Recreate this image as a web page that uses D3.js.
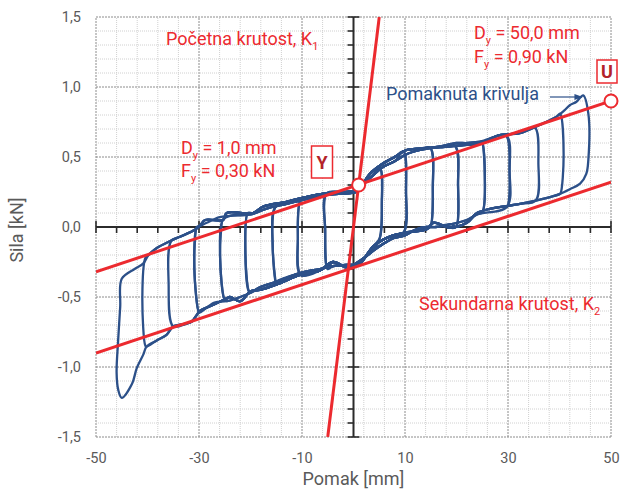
<!DOCTYPE html>
<html>
<head>
<meta charset="utf-8">
<script src="https://cdn.jsdelivr.net/npm/d3@7"></script>
<style>
  body { margin: 0; background: #fff; }
  text { font-family: Roboto, "Noto Sans", sans-serif; }
</style>
</head>
<body>
<svg id="chart" width="623" height="490"></svg>
<script>
// tick labels
const xTicks = [-50, -30, -10, 10, 30, 50];
const yTicks = [-1.5, -1.0, -0.5, 0.0, 0.5, 1.0, 1.5];

// upper band of the loops (left to right), [pomak mm, sila kN]
const upperBand = [
  [-45, -0.37], [-42.5, -0.3], [-40.8, -0.26], [-39.8, -0.2], [-38.2, -0.15],
  [-35.6, -0.1], [-33.7, -0.07], [-30.8, -0.02], [-29.8, 0.01], [-28.8, 0.05],
  [-25.3, 0.05], [-24.6, 0.1], [-19.5, 0.1], [-17.6, 0.145], [-13, 0.18],
  [-9, 0.216], [-5.2, 0.24], [-1.3, 0.25], [0.5, 0.26], [1.5, 0.29],
  [3.2, 0.38], [5.8, 0.455], [8, 0.5], [10.3, 0.55], [12.9, 0.56],
  [16.8, 0.57], [22, 0.586], [24.6, 0.6], [28.4, 0.657], [32.3, 0.67],
  [36.2, 0.73], [39.5, 0.79], [41, 0.835], [42, 0.87], [43.3, 0.895]
];

// lower band of the loops (right to left)
const lowerBand = [
  [42, 0.27], [40, 0.235], [38.8, 0.22], [35.6, 0.19], [32.3, 0.165],
  [29, 0.145], [26.5, 0.13], [24, 0.1], [22, 0.03], [18.7, -0.005],
  [15.5, 0.03], [14.2, -0.015], [10, -0.04], [7.7, -0.06], [5.8, -0.09],
  [3.8, -0.14], [1.3, -0.26], [0, -0.28], [-1.3, -0.29], [-4, -0.25],
  [-6.5, -0.31], [-10.4, -0.343], [-14.9, -0.41], [-18.2, -0.45], [-20, -0.46],
  [-22, -0.53], [-24, -0.5], [-24.6, -0.51], [-27.3, -0.557], [-29.8, -0.6],
  [-31.4, -0.675], [-32.4, -0.69], [-35, -0.71], [-36.3, -0.77], [-38.2, -0.81],
  [-40.2, -0.855]
];

// repeated cycles (second pass) for the smaller amplitudes
const upperBand2 = [
  [-30.2, 0.0], [-28.5, 0.03], [-26, 0.07], [-24, 0.08], [-20, 0.09],
  [-17, 0.13], [-13, 0.165], [-9, 0.2], [-5.2, 0.23], [-1.3, 0.24],
  [0.5, 0.25], [1.8, 0.3], [3.5, 0.36], [5.8, 0.43], [8, 0.47],
  [10.3, 0.52], [12.9, 0.55], [16.8, 0.575], [20, 0.6], [22, 0.6], [24.6, 0.61]
];
const lowerBand2 = [
  [24, 0.09], [22, 0.05], [19, 0.02], [16, 0.0], [14.2, 0.0],
  [12, -0.02], [10, -0.06], [7.7, -0.08], [5.8, -0.12], [3.8, -0.17],
  [1.3, -0.24], [0, -0.27], [-1.3, -0.27], [-4, -0.28], [-6.5, -0.3],
  [-10.4, -0.33], [-14.9, -0.39], [-18.2, -0.43], [-20, -0.47], [-22, -0.5],
  [-24.6, -0.53], [-27, -0.54], [-29.8, -0.61]
];

// unloading at positive peaks (top -> bottom)
const posDrops = [
  [[5.1, 0.42], [5.5, 0.16], [5.1, -0.08]],
  [[9.7, 0.54], [10.2, 0.25], [9.8, -0.035]],
  [[14.9, 0.565], [15.4, 0.28], [14.9, 0.0]],
  [[19.7, 0.58], [20.3, 0.3], [19.9, 0.0]],
  [[24.9, 0.61], [25.5, 0.36], [25.0, 0.105]],
  [[29.7, 0.65], [30.3, 0.4], [29.8, 0.145]],
  [[35.2, 0.71], [35.9, 0.45], [35.4, 0.19]],
  [[40.1, 0.81], [40.8, 0.52], [40.2, 0.24]],
  [[44.6, 0.94], [45.6, 0.81], [45.6, 0.48], [45.2, 0.38], [44, 0.31]]
];

// reloading at negative peaks (bottom -> top)
const negDrops = [
  [[-5.0, -0.3], [-5.5, -0.02], [-5.2, 0.24]],
  [[-10.2, -0.345], [-10.8, -0.08], [-10.2, 0.2]],
  [[-15.0, -0.41], [-15.7, -0.13], [-15.2, 0.14]],
  [[-20.3, -0.46], [-21.0, -0.17], [-20.5, 0.1]],
  [[-25.0, -0.52], [-25.9, -0.22], [-25.4, 0.05]],
  [[-30.0, -0.61], [-30.9, -0.3], [-30.4, 0.0]],
  [[-35.0, -0.71], [-35.9, -0.4], [-35.4, -0.1]],
  [[-40.4, -0.85], [-41.0, -0.5], [-40.4, -0.22]],
  [[-40.8, -0.91], [-42.1, -1.01], [-43, -1.12], [-45, -1.22], [-45.7, -1.16],
   [-46, -1.04], [-45.7, -0.81], [-45.3, -0.57], [-45, -0.37]]
];
const repeatCycles = [2, 2, 2, 2, 2, 2, 1, 1, 1];

// stiffness lines
const k1Line = [[-5, -1.5], [5, 1.5]];
const k2Upper = [[-50, -0.32], [50, 0.90]];
const k2Lower = [[-50, -0.90], [50, 0.32]];
const pointY = [1.0, 0.30];
const pointU = [50, 0.90];

const red = '#ec2a2f', darkRed = '#b3232a', blue = '#2c5089', grey = '#5a5a5a';

const svg = d3.select('#chart');
const x = d3.scaleLinear([-50, 50], [96, 611]);
const y = d3.scaleLinear([-1.5, 1.5], [437, 17]);

// grid
const grid = svg.append('g');
const xMinor = d3.range(-50, 50.01, 4);
const yMinor = d3.range(-15, 15.01, 1).map(d => d / 10);
const isMajorY = d => Math.abs(d * 2 - Math.round(d * 2)) < 1e-6;
const isMajorX = d => xTicks.includes(Math.round(d));
grid.selectAll('line.vx').data(xMinor).join('line')
  .attr('x1', d => x(d)).attr('x2', d => x(d))
  .attr('y1', y(-1.5)).attr('y2', y(1.5))
  .attr('stroke', d => isMajorX(d) ? '#8c8c8c' : '#d0d0d0')
  .attr('stroke-dasharray', d => isMajorX(d) ? '2,1' : '1,1');
grid.selectAll('line.hy').data(yMinor).join('line')
  .attr('y1', d => y(d)).attr('y2', d => y(d))
  .attr('x1', x(-50)).attr('x2', x(50))
  .attr('stroke', d => isMajorY(d) ? '#8c8c8c' : '#d0d0d0')
  .attr('stroke-dasharray', d => isMajorY(d) ? '2,1' : '1,1');

// zero axes
const axes = svg.append('g').attr('stroke', '#2b2b2b');
axes.append('line').attr('x1', x(-50)).attr('x2', x(50)).attr('y1', y(0)).attr('y2', y(0)).attr('stroke-width', 2);
axes.append('line').attr('x1', x(0)).attr('x2', x(0)).attr('y1', y(-1.5)).attr('y2', y(1.5)).attr('stroke-width', 2);
axes.selectAll('line.tx').data(xMinor).join('line')
  .attr('x1', d => x(d)).attr('x2', d => x(d))
  .attr('y1', d => isMajorX(d) ? y(0) - 6 : y(0))
  .attr('y2', y(0) + 6).attr('stroke-width', 1.6);
axes.selectAll('line.ty').data(yMinor).join('line')
  .attr('y1', d => y(d)).attr('y2', d => y(d))
  .attr('x1', x(0) - 6)
  .attr('x2', d => isMajorY(d) ? x(0) + 6 : x(0))
  .attr('stroke-width', 1.6);

// tick labels
const fmtY = d => d3.format('.1f')(d).replace('.', ',').replace('−', '-');
svg.append('g').attr('transform', `translate(81,0)`)
  .call(d3.axisLeft(y).tickValues(yTicks).tickSize(0).tickFormat(fmtY))
  .call(g => g.select('.domain').remove())
  .call(g => g.selectAll('text').attr('fill', grey).attr('font-size', 14.5).attr('x', 0)
    .style('font-family', 'Roboto, sans-serif'));
svg.append('g').attr('transform', `translate(0,450)`)
  .call(d3.axisBottom(x).tickValues(xTicks).tickSize(0).tickFormat(d => String(d)))
  .call(g => g.select('.domain').remove())
  .call(g => g.selectAll('text').attr('fill', grey).attr('font-size', 14.5).attr('dy', '0.71em')
    .style('font-family', 'Roboto, sans-serif'));

svg.append('text').attr('x', x(0)).attr('y', 485).attr('text-anchor', 'middle')
  .attr('fill', grey).attr('font-size', 18).text('Pomak [mm]');
svg.append('text').attr('transform', `translate(23,230) rotate(-90)`).attr('text-anchor', 'middle')
  .attr('fill', grey).attr('font-size', 18).text('Sila [kN]');

// hysteresis loops
function buildLoop(pd, nd, up, low) {
  const nTop = nd[nd.length - 1], nBot = nd[0];
  const pTop = pd[0], pBot = pd[pd.length - 1];
  return [
    ...up.filter(p => p[0] > nTop[0] && p[0] < pTop[0]),
    ...pd,
    ...low.filter(p => p[0] < pBot[0] && p[0] > nBot[0]),
    ...nd
  ];
}
const loops = [];
posDrops.forEach((pd, i) => {
  loops.push(buildLoop(pd, negDrops[i], upperBand, lowerBand));
  if (repeatCycles[i] > 1) loops.push(buildLoop(pd, negDrops[i], upperBand2, lowerBand2));
});
const loopLine = d3.line().x(d => x(d[0])).y(d => y(d[1])).curve(d3.curveCatmullRomClosed.alpha(0.5));
svg.append('g').selectAll('path').data(loops).join('path')
  .attr('d', loopLine).attr('fill', 'none').attr('stroke', blue)
  .attr('stroke-width', 2.3).attr('stroke-linejoin', 'round');

// red stiffness lines
const clip = svg.append('clipPath').attr('id', 'plotClip');
clip.append('rect').attr('x', x(-50)).attr('y', y(1.5)).attr('width', x(50) - x(-50)).attr('height', y(-1.5) - y(1.5));
const straight = d3.line().x(d => x(d[0])).y(d => y(d[1]));
svg.append('g').attr('clip-path', 'url(#plotClip)').selectAll('path')
  .data([k1Line, k2Upper, k2Lower]).join('path')
  .attr('d', straight).attr('stroke', red).attr('stroke-width', 3).attr('fill', 'none');

svg.selectAll('circle.pt').data([pointY, pointU]).join('circle')
  .attr('cx', d => x(d[0])).attr('cy', d => y(d[1])).attr('r', 6.5)
  .attr('fill', '#fff').attr('stroke', red).attr('stroke-width', 2);

// annotations
function label(xp, yp, main, sub, rest, color) {
  const t = svg.append('text').attr('x', xp).attr('y', yp).attr('fill', color || red).attr('font-size', 18);
  t.append('tspan').text(main);
  if (sub) {
    t.append('tspan').attr('font-size', 11).attr('dy', 5).text(sub);
    if (rest) t.append('tspan').attr('dy', -5).text(rest);
  }
  return t;
}
label(166, 45, 'Početna krutost, K', '1');
label(181, 154, 'D', 'y', ' = 1,0 mm');
label(181, 177, 'F', 'y', ' = 0,30 kN');
label(474, 39, 'D', 'y', ' = 50,0 mm');
label(474, 63, 'F', 'y', ' = 0,90 kN');
label(419, 310, 'Sekundarna krutost, K', '2');
label(386, 100, 'Pomaknuta krivulja', null, null, blue);

// arrow
const defs = svg.append('defs');
defs.append('marker').attr('id', 'arr').attr('viewBox', '0 0 10 10').attr('refX', 9).attr('refY', 5)
  .attr('markerWidth', 7).attr('markerHeight', 7).attr('orient', 'auto')
  .append('path').attr('d', 'M0,1.5 L10,5 L0,8.5 Z').attr('fill', blue);
svg.append('line').attr('x1', 550).attr('y1', 97).attr('x2', 582).attr('y2', 97)
  .attr('stroke', blue).attr('stroke-width', 1.2).attr('marker-end', 'url(#arr)');

// boxed letters
[['Y', 311.5, 146, 21, 32], ['U', 597, 60, 20, 23]].forEach(([s, bx, by, bw, bh]) => {
  svg.append('rect').attr('x', bx).attr('y', by).attr('width', bw).attr('height', bh)
    .attr('fill', '#fff').attr('stroke', red).attr('stroke-width', 1.5);
  svg.append('text').attr('x', bx + bw / 2).attr('y', by + bh / 2 + 6.5).attr('text-anchor', 'middle')
    .attr('fill', darkRed).attr('font-size', 18).attr('font-weight', 'bold').text(s);
});
</script>
</body>
</html>
